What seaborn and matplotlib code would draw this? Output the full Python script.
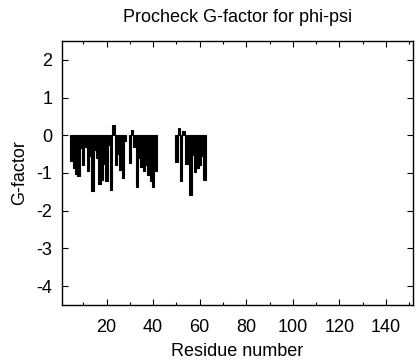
import matplotlib
matplotlib.use("Agg")
import matplotlib.pyplot as plt
import seaborn as sns
import pandas as pd
from matplotlib.ticker import FixedLocator

# Data
residues_a = [5, 6, 7, 8, 9, 10, 11, 12, 13, 14, 15, 16, 17, 18, 19, 20, 21, 22, 23,
              24, 25, 26, 27, 28, 30, 31, 32, 33, 34, 35, 36, 37, 38, 39, 40, 41]
gfactor_a = [-0.68, -0.88, -1.02, -1.08, -0.35, -0.80, -0.30, -0.95, -0.55, -1.48,
             -0.40, -0.60, -1.30, -1.18, -0.75, -1.22, -0.25, -1.45, 0.28,
             -0.78, -0.50, -0.92, -1.12, -0.15, -0.73, 0.15, -0.30, -1.36, -0.60,
             -0.85, -0.95, -0.80, -1.05, -1.20, -1.36, -0.95]
residues_b = [50, 51, 52, 53, 54, 55, 56, 57, 58, 59, 60, 61, 62]
gfactor_b = [-0.70, 0.20, -1.22, 0.12, -0.75, -0.75, -1.58, -0.52, -0.98, -0.88,
             -0.78, -0.55, -1.18]

x_major_ticks = [20, 40, 60, 80, 100, 120, 140]
x_minor_ticks = [10, 30, 50, 70, 90, 110, 130, 150]
y_ticks = [-4, -3, -2, -1, 0, 1, 2]

title = "Procheck G-factor for phi-psi"
xlabel = "Residue number"
ylabel = "G-factor"

sns.set_theme(style="white")
plt.rcParams["font.family"] = ["Liberation Sans", "DejaVu Sans"]
plt.rcParams["text.color"] = "black"
plt.rcParams["axes.labelcolor"] = "black"

df = pd.DataFrame({"residue": residues_a + residues_b,
                   "g": gfactor_a + gfactor_b})

fig = plt.figure(figsize=(4.16, 3.6), dpi=100)
ax = fig.add_axes([0.1498, 0.153, 0.8425, 0.733])

sns.barplot(data=df, x="residue", y="g", native_scale=True, width=1.0,
            color="black", saturation=1, edgecolor="black", linewidth=0.8,
            ax=ax)

ax.set_xlim(1, 151.5)
ax.set_ylim(-4.5, 2.5)
ax.xaxis.set_major_locator(FixedLocator(x_major_ticks))
ax.xaxis.set_minor_locator(FixedLocator(x_minor_ticks))
ax.yaxis.set_major_locator(FixedLocator(y_ticks))
ax.set_yticklabels([str(t) for t in y_ticks])
ax.set_xticklabels([str(t) for t in x_major_ticks])

ax.tick_params(which="both", direction="in", top=True, right=True,
               bottom=True, left=True, colors="black", labelsize=13)
ax.tick_params(which="major", length=4, width=0.8)
ax.tick_params(which="minor", length=2, width=0.8)
ax.tick_params(axis="x", which="major", pad=10)
ax.tick_params(axis="y", which="major", pad=7)

for s in ax.spines.values():
    s.set_visible(True)
    s.set_color("black")
    s.set_linewidth(1.0)

ax.set_title(title, fontsize=13, pad=14, color="black")
ax.set_xlabel(xlabel, fontsize=13, labelpad=5, color="black")
ax.set_ylabel(ylabel, fontsize=13, labelpad=6, color="black")
ax.grid(False)

fig.savefig("out.png", dpi=100)
